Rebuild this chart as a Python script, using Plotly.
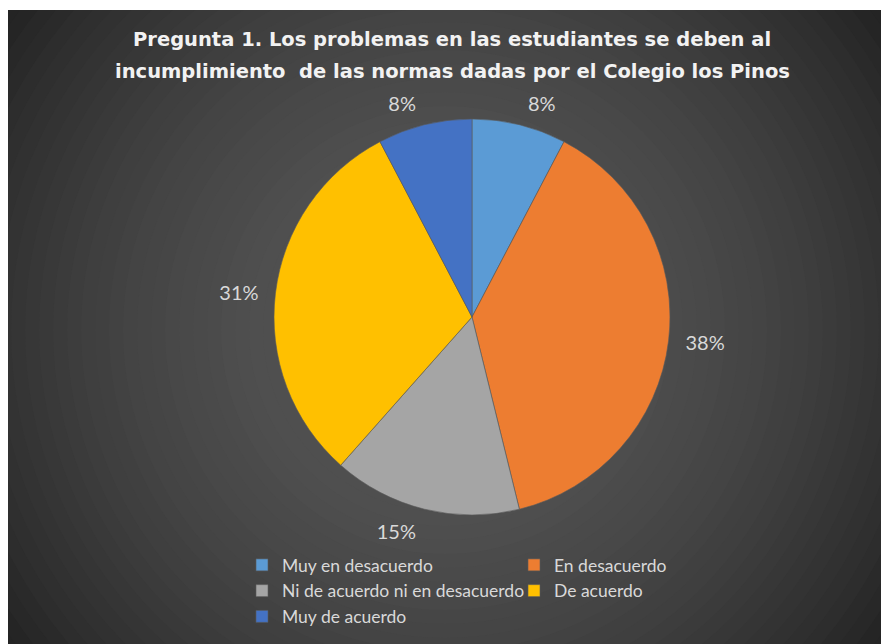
import plotly.graph_objects as go

# ---- data ----
categories = ["Muy en desacuerdo", "En desacuerdo", "Ni de acuerdo ni en desacuerdo",
              "De acuerdo", "Muy de acuerdo"]
counts = [1, 5, 2, 4, 1]
slice_colors = ["#5B9BD5", "#ED7D31", "#A5A5A5", "#FFC000", "#4472C4"]
title_lines = ["Pregunta 1. Los problemas en las estudiantes se deben al",
               "incumplimiento  de las normas dadas por el Colegio los Pinos"]

# the page body adds an 8px offset; work in screen pixels and convert
OFF = 8
W, H = 878, 636
L, R = 234, 44           # margins chosen so the legend wraps into two columns
PW = W - L - R


def px(sx):
    return (sx - OFF - L) / PW


def py(sy):
    return 1 - (sy - OFF) / H


cx, cy, rad = 472, 317, 198      # pie centre / radius (screen px)
lab = rad + 11                   # radius of the label ring

fig = go.Figure()
fig.add_trace(go.Pie(
    labels=categories,
    values=counts,
    sort=False,
    direction="clockwise",
    rotation=0,
    marker=dict(colors=slice_colors, line=dict(color="rgba(90,90,90,0.6)", width=1)),
    textinfo="none",
    domain=dict(x=[px(cx - rad), px(cx + rad)], y=[py(cy + rad), py(cy - rad)]),
    hoverinfo="label+percent",
    showlegend=True,
))
# percentage labels placed on a slightly wider ring
fig.add_trace(go.Pie(
    labels=categories,
    values=counts,
    sort=False,
    direction="clockwise",
    rotation=0,
    marker=dict(colors=["rgba(0,0,0,0)"] * len(categories), line=dict(width=0)),
    texttemplate="%{percent:.0%}",
    textposition="outside",
    textfont=dict(family="Lato", size=20, color="#d9d9d9"),
    domain=dict(x=[px(cx - lab), px(cx + lab)], y=[py(cy + lab), py(cy - lab)]),
    hoverinfo="skip",
    showlegend=False,
))

# background: radial gradient made of concentric rings
shapes = []
gx, gy = 445, 330
rmax = 560
n = 40
for i in range(n):
    r = rmax * (1 - i / n)
    t = r / 540
    v = int(round(max(36, 85 - 49 * t * t)))
    shapes.append(dict(type="circle", xref="paper", yref="paper", layer="below",
                       x0=px(gx - r), x1=px(gx + r), y0=py(gy + r), y1=py(gy - r),
                       fillcolor=f"rgb({v},{v},{v})", line=dict(width=0)))
# thin white strip at the top of the frame
shapes.append(dict(type="rect", xref="paper", yref="paper", layer="below",
                   x0=px(0), x1=px(900), y0=py(10), y1=py(0),
                   fillcolor="white", line=dict(width=0)))

annotations = []
for k, line in enumerate(title_lines):
    annotations.append(dict(text=line, xref="paper", yref="paper", showarrow=False,
                            x=px(452), y=py(40 + 31 * k), xanchor="center", yanchor="middle",
                            font=dict(family="DejaVu Sans", size=19.5, color="#f2f2f2",
                                      weight="bold")))

fig.update_layout(
    width=W, height=H,
    margin=dict(l=L, r=R, t=0, b=0),
    paper_bgcolor="white",
    plot_bgcolor="rgba(0,0,0,0)",
    shapes=shapes,
    annotations=annotations,
    legend=dict(orientation="h", x=0, xanchor="left", y=py(547), yanchor="top",
                font=dict(family="Lato", size=17.5, color="#d9d9d9"),
                entrywidth=227, entrywidthmode="pixels",
                bgcolor="rgba(0,0,0,0)", traceorder="normal"),
)

fig.write_html("out.html")
